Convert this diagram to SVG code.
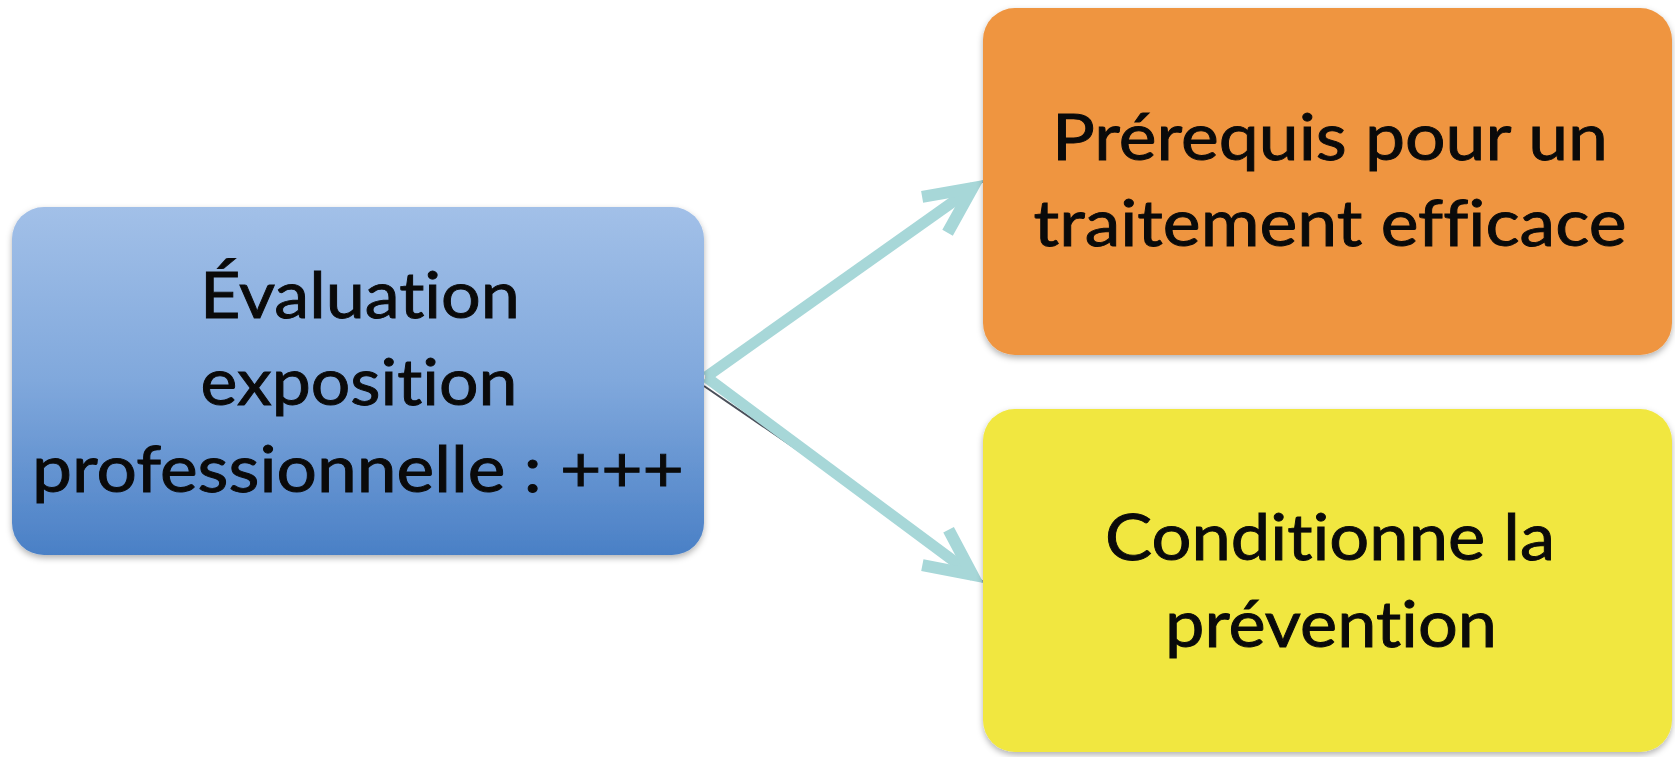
<svg xmlns="http://www.w3.org/2000/svg" width="1675" height="757" viewBox="0 0 1675 757">
  <style>
    .lbl { font-family: Lato, "Open Sans", "Liberation Sans", sans-serif; font-size: 63px; fill: #0a0a0a; stroke: #0a0a0a; stroke-width: 0.9; text-anchor: middle; font-variant-ligatures: none; font-feature-settings: "liga" 0, "clig" 0; }
    .arrow { stroke: #a7d7d8; stroke-width: 11; fill: none; }
    .thin { stroke: #4a4f5a; stroke-width: 2; fill: none; }
  </style>
  <defs>
    <linearGradient id="blueGrad" x1="0" y1="0" x2="0" y2="1">
      <stop offset="0" stop-color="#a2c0e8"/>
      <stop offset="0.5" stop-color="#80a8dc"/>
      <stop offset="1" stop-color="#4a80c6"/>
    </linearGradient>
    <filter id="shadow" x="-5%" y="-5%" width="110%" height="115%">
      <feDropShadow dx="0" dy="3" stdDeviation="3" flood-color="#000" flood-opacity="0.3"/>
    </filter>
    <marker id="head" markerUnits="userSpaceOnUse" markerWidth="90" markerHeight="90" refX="0" refY="0" viewBox="-70 -45 90 90" orient="auto" overflow="visible">
      <path d="M-48,-22 L-2,0 L-48,22" stroke="#a7d7d8" stroke-width="12" fill="none" stroke-linejoin="miter"/>
    </marker>
  </defs>
  <rect width="1675" height="757" fill="#ffffff"/>

  <g id="connectors">
    <line class="thin" x1="704" y1="386" x2="868" y2="498"/>
    <line class="thin" x1="706" y1="377" x2="983" y2="181"/>
    <line class="thin" x1="706" y1="377" x2="983" y2="582"/>
    <line class="arrow" x1="706" y1="377" x2="974" y2="187" marker-end="url(#head)"/>
    <line class="arrow" x1="706" y1="377" x2="974" y2="576" marker-end="url(#head)"/>
  </g>

  <g id="node-evaluation">
    <rect x="12" y="207" width="692" height="348" rx="32" fill="url(#blueGrad)" filter="url(#shadow)"/>
    <text class="lbl" x="360" y="318" textLength="320" lengthAdjust="spacingAndGlyphs">Évaluation</text>
    <text class="lbl" x="359" y="405" textLength="317" lengthAdjust="spacingAndGlyphs">exposition</text>
    <text class="lbl" x="358" y="492" textLength="652" lengthAdjust="spacingAndGlyphs">professionnelle : +++</text>
  </g>

  <g id="node-prerequis">
    <rect x="983" y="8" width="689" height="347" rx="32" fill="#ef9540" filter="url(#shadow)"/>
    <text class="lbl" x="1330" y="160" textLength="556" lengthAdjust="spacingAndGlyphs">Prérequis pour un</text>
    <text class="lbl" x="1330" y="246" textLength="593" lengthAdjust="spacingAndGlyphs">traitement efficace</text>
  </g>

  <g id="node-prevention">
    <rect x="983" y="409" width="689" height="343" rx="32" fill="#f1e73f" filter="url(#shadow)"/>
    <text class="lbl" x="1330" y="560" textLength="450" lengthAdjust="spacingAndGlyphs">Conditionne la</text>
    <text class="lbl" x="1331" y="647" textLength="332" lengthAdjust="spacingAndGlyphs">prévention</text>
  </g>
</svg>
